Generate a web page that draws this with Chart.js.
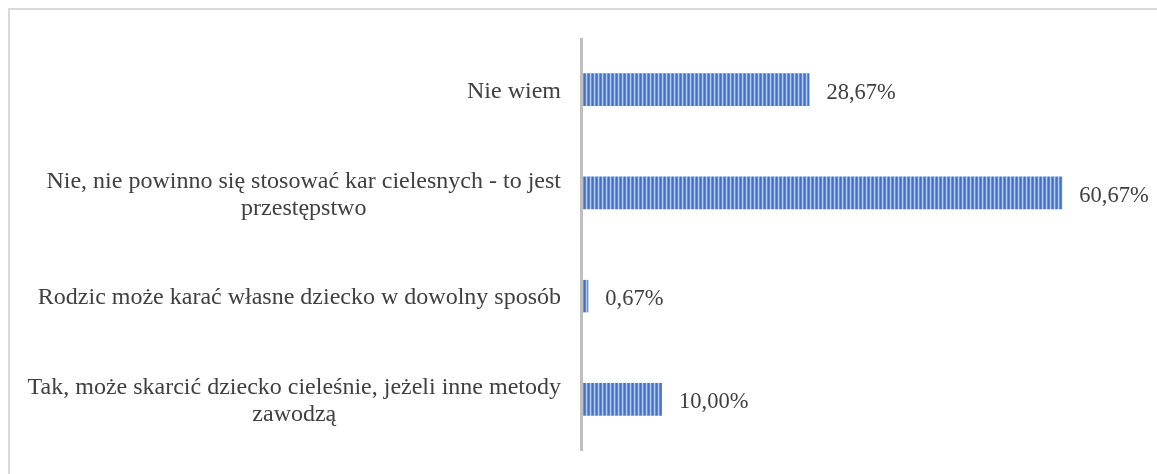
<!DOCTYPE html>
<html>
<head>
<meta charset="utf-8">
<script src="https://cdn.jsdelivr.net/npm/chart.js@4/dist/chart.umd.min.js"></script>
<style>
  html, body { margin: 0; padding: 0; background: #fff; overflow: hidden; }
  #frame { position: absolute; left: 8px; top: 8px; width: 1200px; height: 520px; border: 2px solid #d9d9d9; box-sizing: border-box; }
  #wrap { position: absolute; left: 0; top: 0; width: 1157px; height: 474px; }
</style>
</head>
<body>
<div id="frame"></div>
<div id="wrap"><canvas id="myChart"></canvas></div>
<script>
// categories (top to bottom), each one a list of lines
let labels = [
    ['Nie wiem'],
    ['Nie, nie powinno się stosować kar cielesnych - to jest', 'przestępstwo'],
    ['Rodzic może karać własne dziecko w dowolny sposób'],
    ['Tak, może skarcić dziecko cieleśnie, jeżeli inne metody', 'zawodzą']
];

// percentages
let values = [28.67, 60.67, 0.67, 10.00];

let textColor = '#404040';
let catFont = '24px "Liberation Serif", "Times New Roman", serif';
let valFont = '22.5px "Liberation Serif", "Times New Roman", serif';

// striped fill like the office pattern
function makeStripes() {
    let c = document.createElement('canvas');
    c.width = 4;
    c.height = 4;
    let g = c.getContext('2d');
    let cols = ['#4472c4', '#5b86d2', '#b7cbee', '#6b92d8'];
    for (let i = 0; i < 4; i++) {
        g.fillStyle = cols[i];
        g.fillRect(i, 0, 1, 4);
    }
    return g.createPattern(c, 'repeat');
}

function fmt(v) {
    return v.toFixed(2).replace('.', ',') + '%';
}

// category labels + axis line, placed with the y scale
let sidePlugin = {
    id: 'side',
    afterDraw(chart) {
        let ctx = chart.ctx;
        let area = chart.chartArea;
        let y = chart.scales.y;
        ctx.save();
        ctx.fillStyle = '#bfbfbf';
        ctx.fillRect(area.left - 3, area.top, 3, area.bottom - area.top);

        ctx.font = catFont;
        ctx.fillStyle = textColor;
        ctx.textBaseline = 'middle';
        ctx.textAlign = 'center';
        let rightEdge = area.left - 22;
        let lh = 27;
        labels.forEach(function (lines, i) {
            let cy = y.getPixelForValue(i) + 2;
            let widest = Math.max.apply(null, lines.map(function (l) { return ctx.measureText(l).width; }));
            let cx = rightEdge - widest / 2;
            let y0 = cy - (lines.length - 1) * lh / 2;
            lines.forEach(function (l, k) {
                ctx.fillText(l, cx, y0 + k * lh);
            });
        });

        // value labels
        let meta = chart.getDatasetMeta(0);
        ctx.font = valFont;
        ctx.textAlign = 'left';
        meta.data.forEach(function (bar, i) {
            ctx.fillText(fmt(values[i]), bar.x + 17, bar.y + 3);
        });
        ctx.restore();
    }
};

let myChart = document.getElementById('myChart').getContext('2d');

let chart = new Chart(myChart, {
    type: 'bar',
    data: {
        labels: labels.map(function (l) { return l.join(' '); }),
        datasets: [
            {
                data: values,
                backgroundColor: makeStripes(),
                borderWidth: 0,
                barPercentage: 0.9,
                categoryPercentage: 0.35
            }]
    },
    options: {
        indexAxis: 'y',
        responsive: true,
        maintainAspectRatio: false,
        animation: false,
        layout: {
            padding: { left: 583, top: 38, right: 21, bottom: 23 }
        },
        plugins: {
            legend: { display: false },
            tooltip: { enabled: false }
        },
        scales: {
            x: { display: false, min: 0, max: 70 },
            y: { display: false }
        }
    },
    plugins: [sidePlugin]
});
</script>
</body>
</html>
